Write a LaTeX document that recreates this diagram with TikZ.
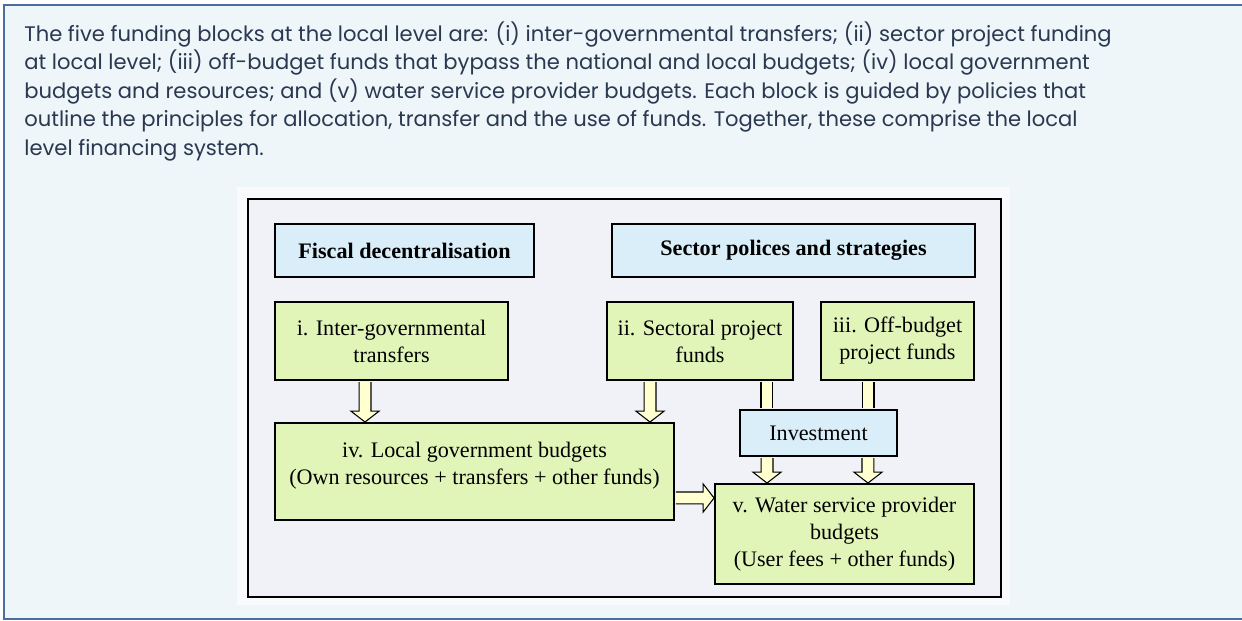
\documentclass[tikz,border=0pt]{standalone}
\usepackage{fontspec}
\setmainfont{Liberation Serif}
\newfontfamily\introfont{Poppins}
\usetikzlibrary{calc}

\definecolor{boxframe}{HTML}{4A6E9E}
\definecolor{boxbg}{HTML}{EEF6FA}
\definecolor{introtext}{HTML}{2A3850}
\definecolor{figbg}{HTML}{F9FAFC}
\definecolor{figpanel}{HTML}{F1F1F8}
\definecolor{bluefill}{HTML}{D9EEF9}
\definecolor{greenfill}{HTML}{E1F5B9}
\definecolor{arrowfill}{HTML}{FFFFCF}

% fat hollow arrows between blocks
\newcommand{\dnarrow}[2]{%
  \filldraw[fatarr] let \p1=(#1), \p2=(#2) in
    (\x1-3.4pt,\y1-0.6pt) -- (\x1-3.4pt,\y2+6.2pt) -- (\x1-8pt,\y2+6.2pt) -- (\x1,\y2)
    -- (\x1+8pt,\y2+6.2pt) -- (\x1+3.4pt,\y2+6.2pt) -- (\x1+3.4pt,\y1-0.6pt);}
\newcommand{\dnbar}[2]{%
  \fill[arrowfill] let \p1=(#1), \p2=(#2) in
    (\x1-3.4pt,\y1-0.6pt) rectangle (\x1+3.4pt,\y2+0.6pt);
  \draw[fatarr] let \p1=(#1), \p2=(#2) in
    (\x1-3.4pt,\y1-0.6pt) -- (\x1-3.4pt,\y2+0.6pt) (\x1+3.4pt,\y2+0.6pt) -- (\x1+3.4pt,\y1-0.6pt);}
\newcommand{\rtarrow}[2]{%
  \filldraw[fatarr] let \p1=(#1), \p2=(#2) in
    (\x1+0.6pt,\y1+3.4pt) -- (\x2-6.2pt,\y1+3.4pt) -- (\x2-6.2pt,\y1+8pt) -- (\x2,\y1)
    -- (\x2-6.2pt,\y1-8pt) -- (\x2-6.2pt,\y1-3.4pt) -- (\x1+0.6pt,\y1-3.4pt);}

\begin{document}
\begin{tikzpicture}[x=0.02cm,y=-0.02cm,font=\fontsize{12.6}{15.3}\selectfont,
   bbox/.style={draw,line width=1.1pt,fill=bluefill,align=center,inner sep=2pt},
   gbox/.style={draw,line width=1.1pt,fill=greenfill,align=center,inner sep=2pt},
   fatarr/.style={draw=black,line width=0.6pt,fill=arrowfill}]
  \useasboundingbox (0,0) rectangle (1242,621);
  % text panel
  \draw[boxframe,fill=boxbg,line width=1.5pt] (4,5) rectangle (1260,619);
  \node[anchor=north west,align=left,inner sep=0pt,text=introtext,
        font=\introfont\fontsize{12}{16.3}\selectfont] (intro) at (24,21)
    {The five funding blocks at the local level are: (i) inter-governmental transfers; (ii) sector project funding\\
     at local level; (iii) off-budget funds that bypass the national and local budgets; (iv) local government\\
     budgets and resources; and (v) water service provider budgets. Each block is guided by policies that\\
     outline the principles for allocation, transfer and the use of funds. Together, these comprise the local\\
     level financing system.};
  % figure
  \fill[figbg] (237,187) rectangle (1010,605);
  \draw[line width=1.2pt,fill=figpanel] (248,199) rectangle (1001,597);
  % policy headers
  \node[bbox,minimum width=5.18cm,minimum height=1.06cm] (fd) at (404.5,250.5) {\textbf{Fiscal decentralisation}};
  \node[bbox,minimum width=7.26cm,minimum height=1.06cm] (sp) at (793.5,250.5) {\textbf{Sector polices and strategies}};
  % funding blocks
  \node[gbox,minimum width=4.66cm,minimum height=1.56cm] (i) at (391.5,341) {i. Inter-governmental\\transfers};
  \node[gbox,minimum width=3.72cm,minimum height=1.56cm] (ii) at (700,341) {ii. Sectoral project\\funds};
  \node[gbox,minimum width=3.06cm,minimum height=1.56cm] (iii) at (897.5,341) {iii. Off-budget\\project funds};
  \node[gbox,minimum width=7.98cm,minimum height=1.94cm] (iv) at (474.5,471.5)
     {iv. Local government budgets\\(Own resources + transfers + other funds)\\[-0.22cm]};
  \node[bbox,minimum width=3.14cm,minimum height=0.92cm] (inv) at (818.5,433) {Investment};
  \node[gbox,minimum width=5.18cm,minimum height=2.0cm] (v) at (844.5,534)
     {v. Water service provider\\budgets\\(User fees + other funds)};
  % flows
  \dnarrow{[xshift=-0.53cm]i.south}{iv.north}
  \dnarrow{[xshift=-1.0cm]ii.south}{iv.north}
  \dnbar{[xshift=1.34cm]ii.south}{inv.north}
  \dnbar{[xshift=-0.59cm]iii.south}{inv.north}
  \dnarrow{[xshift=-1.03cm]inv.south}{v.north}
  \dnarrow{[xshift=0.99cm]inv.south}{v.north}
  \rtarrow{[yshift=-0.53cm]iv.east}{v.west}
\end{tikzpicture}
\end{document}
